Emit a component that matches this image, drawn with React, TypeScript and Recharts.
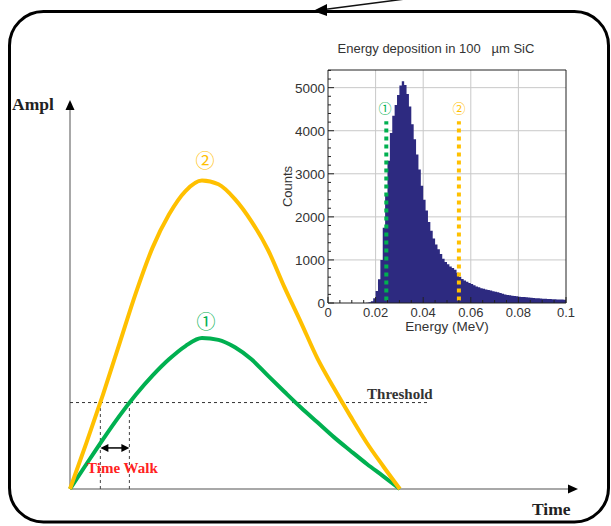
import React from 'react'
import {
  LineChart,
  Line,
  AreaChart,
  Area,
  XAxis,
  YAxis,
  CartesianGrid,
  ReferenceLine,
  ReferenceDot,
  ReferenceArea,
} from 'recharts'

// ---- pulse sketch: amplitude (% of the large pulse peak) vs time (a.u.) ----
const pulseTime = [0, 0.5, 1, 1.5, 2, 2.5, 3, 3.5, 4, 4.5, 5, 5.5, 6, 6.5, 7, 7.5, 8, 8.5, 9, 9.5, 10]
const pulseLarge = [0, 15.0, 30.6, 47.1, 63.6, 78.1, 88.9, 96.5, 99.9, 98.7, 93.9, 86.7, 77.5, 65.4, 54.0, 42.3, 32.7, 23.6, 14.9, 7.3, 0]
const pulseSmall = [0, 8.1, 16.1, 23.7, 30.6, 36.7, 42.0, 46.3, 48.9, 48.3, 45.9, 42.0, 36.7, 31.5, 26.4, 21.6, 16.8, 12.4, 8.1, 4.1, 0]
const threshold = 28
const crossLarge = 0.92
const crossSmall = 1.8
const timeMax = 15.4
const amplMax = 126

// ---- energy deposition histogram, 1 keV bins from 0 to 0.1 MeV ----
const binWidth = 0.001
const binCounts = [
  0, 0, 0, 0, 0, 0, 0, 0, 0, 0,
  0, 0, 0, 0, 0, 0, 5, 15, 40, 110,
  280, 550, 1000, 1750, 2550, 3300, 3950, 4350, 4600, 4830,
  5050, 5150, 5060, 4850, 4560, 4150, 3800, 3450, 3100, 2720,
  2400, 2150, 1880, 1680, 1500, 1360, 1250, 1140, 1030, 950,
  900, 850, 810, 770, 700, 610, 560, 525, 495, 465,
  440, 415, 385, 365, 345, 330, 315, 300, 290, 275,
  262, 250, 232, 212, 198, 188, 178, 170, 162, 155,
  148, 142, 138, 132, 126, 121, 117, 113, 109, 105,
  101, 98, 95, 92, 89, 86, 83, 81, 79, 77,
]
const countsMax = 5410
const xMajor = [0, 0.02, 0.04, 0.06, 0.08, 0.1]
const xTickLabels = ['0', '0.02', '0.04', '0.06', '0.08', '0.1']
const yMajor = [0, 1000, 2000, 3000, 4000, 5000]
const yTickLabels = ['0', '1000', '2000', '3000', '4000', '5000']
const markSmall = 0.0245
const markLarge = 0.055

const YELLOW = '#FFC000'
const GREEN = '#00B050'
const NAVY = '#2d2a80'
const SERIF = '"Liberation Serif", "Times New Roman", serif'
const SANS = '"Liberation Sans", Arial, sans-serif'
const CIRCLED = '"Noto Sans CJK JP", "DejaVu Sans", sans-serif'

const pulseRows = pulseTime.map((t, i) => ({ t, large: pulseLarge[i], small: pulseSmall[i] }))
// step outline: one point per bin's lower edge, plus the closing edge at 0.1
const histRows = [
  ...binCounts.map((n, i) => ({ e: i * binWidth, n })),
  { e: binCounts.length * binWidth, n: binCounts[binCounts.length - 1] },
]
const xMinor: number[] = []
for (let i = 0; i <= 20; i++) xMinor.push(+(i * 0.005).toFixed(3))
const yMinor: number[] = []
for (let v = 0; v <= 5400; v += 200) yMinor.push(v)

// line with arrow head(s), used as a ReferenceLine shape
function arrowShape(both: boolean, head = 9, half = 4) {
  return (p: any) => {
    const { x1, y1, x2, y2, stroke, strokeWidth } = p
    const a = Math.atan2(y2 - y1, x2 - x1)
    const tri = (x: number, y: number, ang: number) => {
      const bx = x - head * Math.cos(ang)
      const by = y - head * Math.sin(ang)
      const nx = -Math.sin(ang) * half
      const ny = Math.cos(ang) * half
      return `${x},${y} ${bx + nx},${by + ny} ${bx - nx},${by - ny}`
    }
    const sx = both ? x1 + (head - 2) * Math.cos(a) : x1
    const sy = both ? y1 + (head - 2) * Math.sin(a) : y1
    return (
      <g>
        <line x1={sx} y1={sy} x2={x2 - (head - 2) * Math.cos(a)} y2={y2 - (head - 2) * Math.sin(a)} stroke={stroke} strokeWidth={strokeWidth} />
        <polygon points={tri(x2, y2, a)} fill="#000" />
        {both && <polygon points={tri(x1, y1, a + Math.PI)} fill="#000" />}
      </g>
    )
  }
}

// text placed at a data point, used as a ReferenceDot shape
function textShape(text: string, style: React.SVGProps<SVGTextElement>) {
  return (p: any) => (
    <text x={p.cx} y={p.cy} textAnchor="middle" dominantBaseline="central" {...style}>
      {text}
    </text>
  )
}

function XTick({ x, y, payload }: any) {
  const i = xMajor.findIndex((v) => Math.abs(v - payload.value) < 1e-9)
  return (
    <g>
      <line x1={x} x2={x} y1={y} y2={y - (i >= 0 ? 6 : 3)} stroke="#222" />
      {i >= 0 && (
        <text x={x} y={y + 14} textAnchor="middle" fontSize={13} fontFamily={SANS} fill="#333">
          {xTickLabels[i]}
        </text>
      )}
    </g>
  )
}

function YTick({ x, y, payload }: any) {
  const i = yMajor.indexOf(payload.value)
  return (
    <g>
      <line x1={x} x2={x + (i >= 0 ? 6 : 3)} y1={y} y2={y} stroke="#222" />
      {i >= 0 && (
        <text x={x - 3} y={y + 5} textAnchor="end" fontSize={13.5} fontFamily={SANS} fill="#333">
          {yTickLabels[i]}
        </text>
      )}
    </g>
  )
}

function CountsLabel({ viewBox }: any) {
  const cx = viewBox.x + 17
  const cy = viewBox.y + viewBox.height / 2
  return (
    <text x={cx} y={cy} transform={`rotate(-90, ${cx}, ${cy})`} textAnchor="middle" dominantBaseline="central" fontSize={13} fontFamily={SANS} fill="#333">
      Counts
    </text>
  )
}

function EnergyInset() {
  return (
    <div style={{ position: 'absolute', left: 270, top: 30, width: 340, height: 320 }}>
      <div style={{ position: 'absolute', left: 0, width: 332, top: 11, textAlign: 'center', fontFamily: SANS, fontSize: 13, color: '#333', whiteSpace: 'pre' }}>
        {'Energy deposition in 100   \u00b5m SiC'}
      </div>
      <AreaChart width={340} height={320} data={histRows} margin={{ top: 40, right: 44, bottom: 15, left: 0 }}>
        <CartesianGrid stroke="#c8c8c8" horizontalValues={yMajor.slice(1)} verticalValues={xMajor.slice(1, -1)} />
        <XAxis
          type="number"
          dataKey="e"
          domain={[0, 0.1]}
          ticks={xMinor}
          interval={0}
          tick={<XTick />}
          tickLine={false}
          axisLine={false}
          tickSize={0}
          tickMargin={0}
          height={32}
          label={{ value: 'Energy (MeV)', position: 'insideBottom', offset: 4, fontSize: 13.5, fontFamily: SANS, fill: '#333' }}
        />
        <YAxis
          type="number"
          domain={[0, countsMax]}
          ticks={yMinor}
          interval={0}
          tick={<YTick />}
          tickLine={false}
          axisLine={false}
          tickSize={0}
          tickMargin={0}
          width={58}
          label={<CountsLabel />}
        />
        <Area type="stepAfter" dataKey="n" stroke="none" fill={NAVY} fillOpacity={1} dot={false} activeDot={false} isAnimationActive={false} />
        <ReferenceArea x1={0} x2={0.1} y1={0} y2={countsMax} fill="none" stroke="#222" strokeWidth={1} />
        <ReferenceLine segment={[{ x: markSmall, y: 60 }, { x: markSmall, y: 4220 }]} stroke={GREEN} strokeWidth={4} strokeDasharray="4 4" />
        <ReferenceLine segment={[{ x: markLarge, y: 60 }, { x: markLarge, y: 4220 }]} stroke={YELLOW} strokeWidth={4} strokeDasharray="4 4" />
        <ReferenceDot x={markSmall - 0.0005} y={4530} r={1} shape={textShape('\u2460', { fill: GREEN, fontSize: 13, fontFamily: CIRCLED })} />
        <ReferenceDot x={markLarge} y={4530} r={1} shape={textShape('\u2461', { fill: YELLOW, fontSize: 13, fontFamily: CIRCLED })} />
      </AreaChart>
    </div>
  )
}

export default function App() {
  return (
    <div style={{ position: 'absolute', left: 0, top: 0, width: 611, height: 526, overflow: 'hidden', background: '#fff' }}>
      <svg width={611} height={526} style={{ position: 'absolute', left: 0, top: 0 }}>
        <rect x={9.5} y={11.5} width={599} height={510.5} rx={34} fill="none" stroke="#000" strokeWidth={3} />
        <line x1={405} y1={-1} x2={326} y2={9.3} stroke="#111" strokeWidth={1.5} />
        <polygon points="313,11 327,4 327,16" fill="#000" />
      </svg>

      <div style={{ position: 'absolute', left: 0, top: 0 }}>
        <LineChart width={611} height={526} data={pulseRows} margin={{ top: 100, right: 33, bottom: 37, left: 70 }}>
          <XAxis type="number" dataKey="t" domain={[0, timeMax]} hide />
          <YAxis type="number" domain={[0, amplMax]} hide />
          <ReferenceLine segment={[{ x: 0, y: 0 }, { x: 0, y: amplMax }]} stroke="#a8a8a8" strokeWidth={2} shape={arrowShape(false, 10, 4.5)} />
          <ReferenceLine segment={[{ x: 0, y: 0 }, { x: timeMax, y: 0 }]} stroke="#a8a8a8" strokeWidth={2} shape={arrowShape(false, 10, 4.5)} />
          <ReferenceLine segment={[{ x: 0, y: threshold }, { x: 10.9, y: threshold }]} stroke="#333" strokeWidth={1} strokeDasharray="3 3" />
          <ReferenceLine segment={[{ x: crossLarge, y: 0 }, { x: crossLarge, y: threshold }]} stroke="#444" strokeWidth={1} strokeDasharray="3 3" />
          <ReferenceLine segment={[{ x: crossSmall, y: 0 }, { x: crossSmall, y: threshold }]} stroke="#444" strokeWidth={1} strokeDasharray="3 3" />
          <ReferenceLine segment={[{ x: crossLarge, y: 13.3 }, { x: crossSmall, y: 13.3 }]} stroke="#000" strokeWidth={1.5} shape={arrowShape(true, 8, 4)} />
          <Line type="monotone" dataKey="small" stroke={GREEN} strokeWidth={4} dot={false} activeDot={false} isAnimationActive={false} />
          <Line type="monotone" dataKey="large" stroke={YELLOW} strokeWidth={4} dot={false} activeDot={false} isAnimationActive={false} />
          <ReferenceDot x={4.09} y={106.6} r={1} shape={textShape('\u2461', { fill: YELLOW, fontSize: 19, fontFamily: CIRCLED })} />
          <ReferenceDot x={4.12} y={54.7} r={1} shape={textShape('\u2460', { fill: GREEN, fontSize: 19, fontFamily: CIRCLED })} />
          <ReferenceDot x={10.0} y={30.8} r={1} shape={textShape('Threshold', { fill: '#333', fontSize: 15, fontWeight: 700, fontFamily: SERIF })} />
          <ReferenceDot x={1.59} y={6.8} r={1} shape={textShape('Time Walk', { fill: '#f22', fontSize: 15, fontWeight: 700, fontFamily: SERIF })} />
        </LineChart>
      </div>

      <div style={{ position: 'absolute', left: 12, top: 94, fontFamily: SERIF, fontWeight: 700, fontSize: 17.5, color: '#222' }}>Ampl</div>
      <div style={{ position: 'absolute', left: 532, top: 499, fontFamily: SERIF, fontWeight: 700, fontSize: 17.5, color: '#222' }}>Time</div>

      <EnergyInset />
    </div>
  )
}
